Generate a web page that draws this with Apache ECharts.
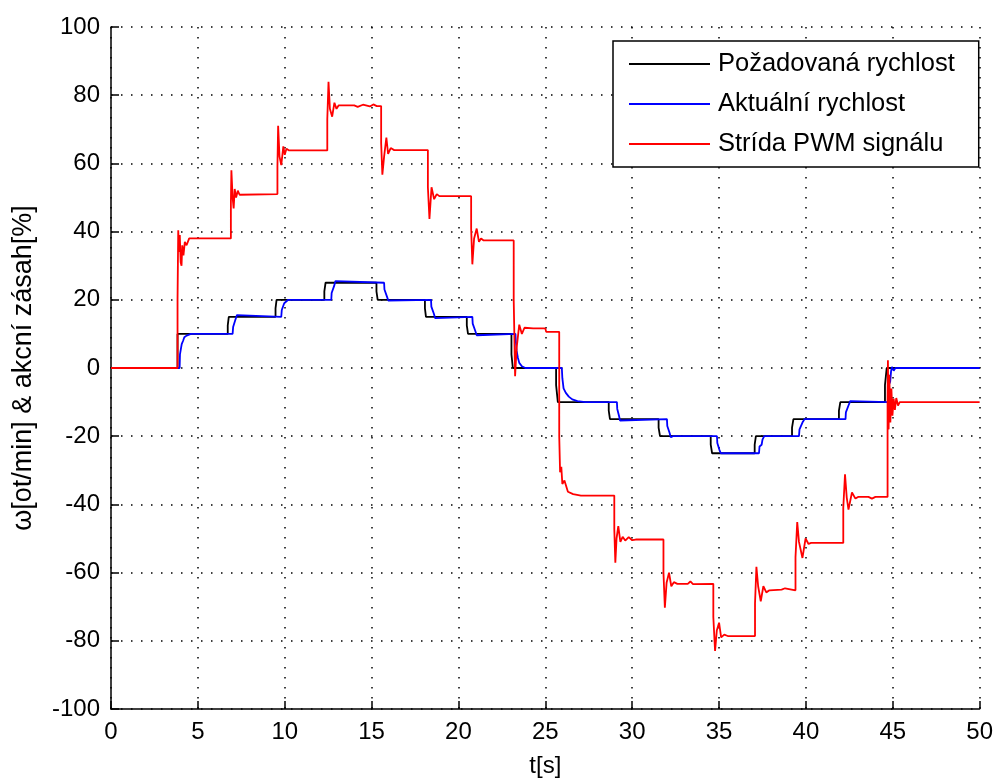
<!DOCTYPE html>
<html>
<head>
<meta charset="utf-8">
<script src="https://cdn.jsdelivr.net/npm/echarts@6/dist/echarts.min.js"></script>
<style>
html,body{margin:0;padding:0;background:#fff;}
#chart{width:996px;height:783px;}
</style>
</head>
<body>
<div id="chart"></div>
<script>
const seriesNames = ['Požadovaná rychlost', 'Aktuální rychlost', 'Strída PWM signálu'];
const xTicks = [0, 5, 10, 15, 20, 25, 30, 35, 40, 45, 50];
const yTicks = [-100, -80, -60, -40, -20, 0, 20, 40, 60, 80, 100];

// [t (s), value]
const requiredSpeed = [
  [0,0],[3.83,0],[3.83,10],[6.72,10],[6.72,12.5],[6.78,12.5],[6.78,15],[9.47,15],[9.47,17.5],[9.53,17.5],[9.53,20],
  [12.28,20],[12.28,22.5],[12.35,22.5],[12.35,25],[15.28,25],[15.28,22.5],[15.35,22.5],[15.35,20],
  [18.07,20],[18.07,17.5],[18.13,17.5],[18.13,15],[20.48,15],[20.48,12.5],[20.55,12.5],[20.55,10],
  [23.05,10],[23.05,4],[23.13,4],[23.13,0],[25.62,0],[25.62,-5],[25.72,-5],[25.72,-10],
  [28.65,-10],[28.65,-12.5],[28.72,-12.5],[28.72,-15],[31.52,-15],[31.52,-17.5],[31.6,-17.5],[31.6,-20],
  [34.52,-20],[34.52,-22.5],[34.6,-22.5],[34.6,-25],[37.05,-25],[37.05,-22.5],[37.12,-22.5],[37.12,-20],
  [39.2,-20],[39.2,-17.5],[39.28,-17.5],[39.28,-15],[41.9,-15],[41.9,-12.5],[41.98,-12.5],[41.98,-10],
  [44.55,-10],[44.55,-5],[44.65,-5],[44.65,0],[50,0]
];

const actualSpeed = [
  [0,0],[3.95,0],[3.97,4],[4.05,4],[4.07,7],[4.15,8],[4.22,9],[4.35,9.5],[4.6,10],[7.0,10],[7.03,12],[7.12,12.5],[7.15,14],[7.25,15.5],[7.32,15],
  [9.8,15],[9.83,17],[9.93,17.5],[9.97,19],[10.08,19.5],[10.2,20],[12.68,20],[12.7,22],[12.8,22.5],[12.84,24],[12.92,25.5],[13.0,25],
  [15.72,25],[15.74,23],[15.84,22.5],[15.88,21],[15.96,19.8],[16.05,20],[18.42,20],[18.44,18],[18.54,17.5],[18.58,16],[18.66,14.6],[18.75,15],
  [20.8,15],[20.82,13],[20.92,12.5],[20.96,11],[21.05,9.6],[21.15,10],[23.28,10],[23.3,8],[23.35,5],[23.42,3],[23.5,1.5],[23.65,0.5],[23.85,0],
  [25.95,0],[25.98,-3],[26.05,-6],[26.18,-7.3],[26.35,-8.4],[26.55,-9.2],[26.85,-9.7],[27.3,-10],
  [29.12,-10],[29.14,-12],[29.2,-12.5],[29.24,-14],[29.3,-15.4],[29.4,-15],[32.0,-15],[32.02,-17],[32.1,-17.5],[32.15,-19],[32.22,-20.3],[32.35,-20],
  [34.88,-20],[34.9,-22],[34.98,-22.5],[35.02,-24],[35.1,-25],[37.3,-25],[37.33,-23],[37.45,-22.5],[37.5,-21],[37.6,-20],[37.7,-19.6],[37.8,-20],
  [39.6,-20],[39.63,-18],[39.73,-17.5],[39.8,-16],[39.92,-15],[40.0,-14.7],[40.1,-15],[42.28,-15],[42.3,-13],[42.4,-12.5],[42.45,-11],[42.55,-9.7],[42.65,-10],
  [44.75,-10],[44.77,-5],[44.85,-4],[44.9,-1],[44.95,0.3],[45.05,-0.8],[45.15,0],[50,0]
];

const pwmDuty = [
  [0,0],[3.83,0],[3.83,20],[3.87,40.4],[3.92,34],[3.96,39],[4.01,31],[4.06,30],[4.1,36],[4.17,33],[4.25,37],[4.35,36],[4.5,38],[6.9,38],
  [6.9,48],[6.93,58],[7.0,50],[7.06,46.8],[7.12,52.5],[7.2,50],[7.3,52],[7.4,50.8],[7.5,51],[9.58,51],
  [9.58,59],[9.62,71],[9.7,62],[9.8,59.5],[9.92,65],[10.0,62.5],[10.1,64.3],[10.25,63.8],[12.45,63.8],
  [12.45,73],[12.52,83.9],[12.6,76],[12.73,73.7],[12.86,77.8],[12.98,76],[13.1,77],[14.0,77],[14.2,76.6],[14.5,77.2],[14.9,76.7],[15.1,77.3],[15.3,76.8],[15.55,76.8],
  [15.55,66],[15.62,56.7],[15.72,62],[15.85,67.6],[15.95,62.8],[16.1,64.5],[16.3,63.9],[18.24,63.9],
  [18.24,53],[18.33,43.7],[18.45,53],[18.6,49.5],[18.75,51],[18.9,50.4],[20.73,50.4],
  [20.73,41],[20.8,30.4],[20.9,38],[21.05,40.9],[21.18,37],[21.3,38],[21.45,37.4],[23.18,37.4],
  [23.18,20],[23.26,-2.4],[23.35,6],[23.5,12.7],[23.65,10],[23.8,11.8],[24.3,11.6],[25.0,11.6],[25.05,10.6],[25.8,10.6],
  [25.8,-20],[25.85,-30.6],[25.92,-29],[25.98,-34],[26.1,-33],[26.3,-36.3],[26.6,-37],[27.05,-37.4],[28.97,-37.4],
  [28.97,-47.3],[29.03,-57.1],[29.1,-50],[29.2,-46.4],[29.32,-51],[29.45,-49.5],[29.6,-50.6],[29.8,-49.6],[30.0,-50.5],[30.2,-50.3],[31.8,-50.3],
  [31.8,-60],[31.88,-70.3],[31.98,-63],[32.12,-60],[32.25,-64],[32.4,-62.8],[32.6,-63.3],[33.2,-63.3],[33.35,-62.6],[33.5,-63.4],[34.67,-63.3],
  [34.67,-73],[34.77,-83],[34.87,-77],[35.0,-74.7],[35.12,-79],[35.3,-78.2],[35.5,-78.6],[37.07,-78.6],
  [37.07,-69],[37.15,-58.3],[37.25,-64],[37.4,-68.4],[37.55,-64],[37.72,-65.8],[37.9,-65.2],[38.6,-65],[38.8,-64.6],[39.4,-65.2],
  [39.4,-55.5],[39.5,-45.2],[39.6,-51],[39.8,-55.7],[39.98,-50],[40.15,-51.6],[40.3,-51.3],[42.15,-51.3],
  [42.15,-41],[42.25,-31.2],[42.35,-38],[42.45,-41.5],[42.65,-36.5],[42.85,-38.3],[43.0,-37.8],[43.6,-37.8],[43.8,-38.3],[44.0,-37.8],[44.7,-37.8],
  [44.7,-10],[44.72,2.3],[44.76,-18],[44.8,-2],[44.86,-16],[44.92,-6],[44.98,-14],[45.05,-9],[45.12,-12.3],[45.2,-8.8],[45.3,-11],[45.4,-10],[50,-10]
];

const seriesColors = ['#000000', '#0000ff', '#ff0000'];
const FONT = '"Liberation Sans", Arial, sans-serif';

const chart = echarts.init(document.getElementById('chart'), null, {renderer: 'canvas'});
const gridLine = {show: true, lineStyle: {color: '#000', width: 1.5, type: [1.5, 8.5]}};
const option = {
  animation: false,
  backgroundColor: '#fff',
  grid: {left: 111, right: 15, top: 27, bottom: 74, containLabel: false},
  xAxis: {
    type: 'value', min: xTicks[0], max: xTicks[xTicks.length - 1], interval: 5,
    name: 't[s]', nameLocation: 'middle', nameGap: 45,
    nameTextStyle: {color: '#000', fontSize: 24, fontFamily: FONT},
    axisLine: {show: true, onZero: false, lineStyle: {color: '#000', width: 1.5}},
    axisTick: {show: true, inside: true, length: 8, lineStyle: {color: '#000', width: 1.5}},
    axisLabel: {color: '#000', fontSize: 24, fontFamily: FONT, margin: 11},
    splitLine: gridLine
  },
  yAxis: {
    type: 'value', min: yTicks[0], max: yTicks[yTicks.length - 1], interval: 20,
    name: 'ω[ot/min] & akcní zásah[%]', nameLocation: 'middle', nameGap: 74, nameRotate: 90,
    nameTextStyle: {color: '#000', fontSize: 27, fontFamily: FONT},
    axisLine: {show: true, onZero: false, lineStyle: {color: '#000', width: 1.5}},
    axisTick: {show: true, inside: true, length: 8, lineStyle: {color: '#000', width: 1.5}},
    axisLabel: {color: '#000', fontSize: 24, fontFamily: FONT, margin: 11},
    splitLine: gridLine
  },
  legend: {
    orient: 'vertical', left: 613, top: 41,
    padding: [10, 24, 10, 16], itemGap: 14,
    itemWidth: 81, itemHeight: 2, icon: 'rect',
    backgroundColor: '#fff', borderColor: '#000', borderWidth: 1.5,
    textStyle: {color: '#000', fontSize: 25.5, fontFamily: FONT, lineHeight: 24, padding: [0, 0, 0, 3]},
    data: seriesNames
  },
  series: [requiredSpeed, actualSpeed, pwmDuty].map((d, i) => ({
    name: seriesNames[i], type: 'line', data: d, showSymbol: false, symbol: 'none',
    lineStyle: {color: seriesColors[i], width: 1.8}, itemStyle: {color: seriesColors[i]},
    z: 2 + i
  }))
};
chart.setOption(option);
</script>
</body>
</html>
